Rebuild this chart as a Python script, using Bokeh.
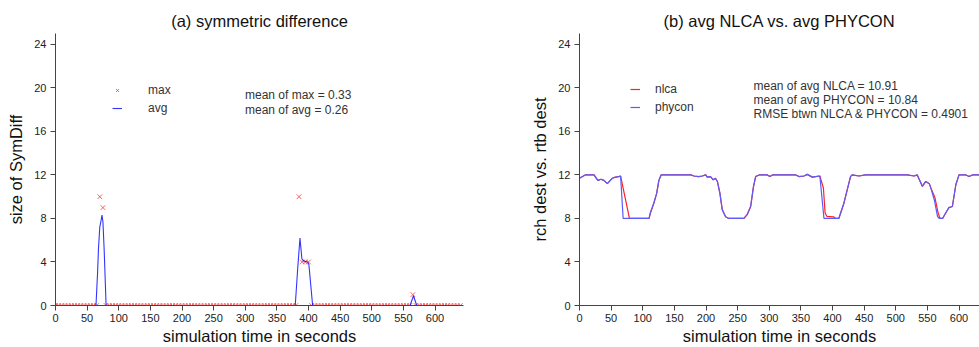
from bokeh.plotting import figure
from bokeh.layouts import row
from bokeh.models import Legend, LegendItem, Label, FixedTicker, Range1d
from bokeh.embed import file_html
from bokeh.resources import INLINE

# ---------------- data ----------------
x_ticks = [0, 50, 100, 150, 200, 250, 300, 350, 400, 450, 500, 550, 600]
y_ticks = [0, 4, 8, 12, 16, 20, 24]

# (a) symmetric difference: max sampled every 5 s
max_t = list(range(0, 645, 5))
max_v = [
    0, 0, 0, 0, 0, 0, 0, 0, 0, 0,
    0, 0, 0, 0, 10, 9, 0, 0, 0, 0,
    0, 0, 0, 0, 0, 0, 0, 0, 0, 0,
    0, 0, 0, 0, 0, 0, 0, 0, 0, 0,
    0, 0, 0, 0, 0, 0, 0, 0, 0, 0,
    0, 0, 0, 0, 0, 0, 0, 0, 0, 0,
    0, 0, 0, 0, 0, 0, 0, 0, 0, 0,
    0, 0, 0, 0, 0, 0, 0, 10, 4, 4,
    4, 0, 0, 0, 0, 0, 0, 0, 0, 0,
    0, 0, 0, 0, 0, 0, 0, 0, 0, 0,
    0, 0, 0, 0, 0, 0, 0, 0, 0, 0,
    0, 0, 0, 1, 0, 0, 0, 0, 0, 0,
    0, 0, 0, 0, 0, 0, 0, 0, 0,
]
avg_t = [0, 64, 66.5, 68, 70, 72, 73.5, 75, 77, 80,
         379, 383, 386.5, 389.5, 392, 398.5, 400.5, 406.5,
         560.5, 566, 571, 640]
avg_v = [0, 0, 3.0, 5.3, 7.2, 7.8, 8.3, 7.7, 5.0, 0,
         0, 3.5, 6.2, 4.3, 4.1, 4.0, 3.8, 0,
         0, 0.9, 0, 0]

# (b) avg NLCA vs. avg PHYCON
phy_t = [0, 9, 23, 29, 34, 38.5, 44, 52, 57, 62, 65, 69, 110, 112, 117.5, 122,
         125.5, 129, 176, 181, 188.5, 194, 199.5, 202, 207, 211.5, 215, 218, 222,
         225.7, 231, 236, 260, 265, 270.6, 275, 278.5, 284, 297, 301, 305, 342,
         347, 355, 360, 368, 373, 380, 386.5, 410, 418, 428.5, 431, 442, 452,
         518, 529, 534, 542, 547.5, 553, 555.5, 561, 566, 568.5, 574, 579, 584,
         589.5, 595, 600, 611, 616, 621, 640]
phy_v = [11.7, 12, 12, 11.5, 11.6, 11.5, 11.2, 11.7, 11.8, 11.85, 11.9, 8, 8, 8.5, 9.4, 10.3,
         11.5, 12, 12, 11.9, 11.85, 11.9, 12, 11.8, 11.85, 11.55, 11.7, 11.4, 10.3,
         8.8, 8.15, 8, 8, 8.35, 9.1, 10.9, 11.85, 12, 12, 11.85, 12, 12,
         11.85, 11.9, 12.05, 11.8, 11.85, 11.9, 8, 8, 9.4, 11.85, 12, 11.9, 12,
         12, 11.9, 12, 10.95, 11.4, 11.2, 10.8, 9.7, 8.2, 8.0, 8.0, 8.5, 9.0,
         9.1, 11.1, 12, 12, 11.85, 12, 12]
nlca_t = [0, 9, 23, 29, 34, 38.5, 44, 52, 57, 62, 65, 79, 110, 112, 117.5, 122,
          125.5, 129, 176, 181, 188.5, 194, 199.5, 202, 207, 211.5, 215, 218, 222,
          225.7, 231, 236, 260, 265, 270.6, 275, 278.5, 284, 297, 301, 305, 342,
          347, 355, 360, 368, 373, 380, 385.6, 388.3, 391, 401.6, 405, 410, 418,
          428.5, 431, 442, 452, 518, 529, 534, 542, 547.5, 553, 555.5, 562, 567,
          570, 574, 579, 584, 589.5, 595, 600, 611, 616, 621, 640]
nlca_v = [11.7, 12, 12, 11.5, 11.6, 11.5, 11.2, 11.7, 11.8, 11.85, 11.9, 8, 8, 8.5, 9.4, 10.3,
          11.5, 12, 12, 11.9, 11.85, 11.9, 12, 11.8, 11.85, 11.55, 11.7, 11.4, 10.3,
          8.8, 8.15, 8, 8, 8.35, 9.1, 10.9, 11.85, 12, 12, 11.85, 12, 12,
          11.85, 11.9, 12.05, 11.8, 11.85, 11.9, 10.8, 8.5, 8.2, 8.15, 8.0, 8, 9.4,
          11.85, 12, 11.9, 12, 12, 11.9, 12, 10.95, 11.4, 11.2, 10.8, 9.9, 8.5,
          8.0, 8.0, 8.5, 9.0, 9.1, 11.1, 12, 12, 11.85, 12, 12]

FONT = "Liberation Sans"


def style(p, ylabel):
    p.title.text_font = FONT
    p.title.text_font_size = "16.5px"
    p.title.text_font_style = "normal"
    p.title.text_color = "#111111"
    p.title.align = "center"
    p.title.standoff = 7
    p.outline_line_color = None
    p.xgrid.grid_line_color = None
    p.ygrid.grid_line_color = None
    p.xaxis.ticker = FixedTicker(ticks=x_ticks)
    p.yaxis.ticker = FixedTicker(ticks=y_ticks)
    p.xaxis.axis_label = "simulation time in seconds"
    p.yaxis.axis_label = ylabel
    for ax in (p.xaxis, p.yaxis):
        ax.axis_label_text_font = FONT
        ax.axis_label_text_font_size = "16.5px"
        ax.axis_label_text_font_style = "normal"
        ax.axis_label_text_color = "#111111"
        ax.major_label_text_font = FONT
        ax.major_label_text_font_size = "11px"
        ax.major_label_text_color = "#222222"
        ax.axis_line_color = "#444444"
        ax.major_tick_line_color = "#444444"
        ax.major_tick_in = 0
        ax.major_tick_out = 5
        ax.minor_tick_line_color = None
    p.xaxis.major_label_standoff = 3
    p.xaxis.axis_label_standoff = 2
    p.yaxis.major_label_standoff = 4
    p.yaxis.axis_label_standoff = 6


def legend(p, items, loc, gw, standoff):
    lg = Legend(items=items, location=loc, orientation="vertical",
                glyph_width=gw, glyph_height=18, label_height=18,
                label_standoff=standoff, spacing=0, padding=0, margin=0,
                border_line_alpha=0, background_fill_alpha=0,
                label_text_font=FONT, label_text_font_size="12px",
                label_text_color="#333333")
    p.add_layout(lg)


def note(p, text, x, y):
    p.add_layout(Label(x=x, y=y, x_units="screen", y_units="screen", text=text,
                       text_font=FONT, text_font_size="12px",
                       text_color="#333333", text_baseline="middle"))


# ---------------- (a) ----------------
p1 = figure(width=500, height=347, x_range=Range1d(0, 645), y_range=Range1d(0, 25),
            title="(a) symmetric difference", output_backend="svg",
            toolbar_location=None, min_border_left=55, min_border_right=37,
            min_border_top=33, min_border_bottom=42)
style(p1, "size of SymDiff")
r_max = p1.scatter(max_t, max_v, marker="x", size=6.5, color="#ff2a2a", alpha=0.75, line_width=1)
r_avg = p1.line(avg_t, avg_v, color="blue", line_width=1.1, alpha=0.8)
legend(p1, [LegendItem(label="max", renderers=[r_max]),
            LegendItem(label="avg", renderers=[r_avg])], (57, 188), 10, 26)
note(p1, "mean of max = 0.33", 189.5, 211)
note(p1, "mean of avg = 0.26", 189.5, 196)

# ---------------- (b) ----------------
p2 = figure(width=479, height=347, x_range=Range1d(0, 632.4), y_range=Range1d(0, 25),
            title="(b) avg NLCA vs. avg PHYCON", output_backend="svg",
            toolbar_location=None, min_border_left=79, min_border_right=0,
            min_border_top=33, min_border_bottom=42)
style(p2, "rch dest vs. rtb dest")
r_n = p2.line(nlca_t, nlca_v, color="#ff2020", line_width=1.2)
r_p = p2.line(phy_t, phy_v, color="#5a5aff", line_width=1.2)
legend(p2, [LegendItem(label="nlca", renderers=[r_n]),
            LegendItem(label="phycon", renderers=[r_p])], (51, 189), 10, 15)
note(p2, "mean of avg NLCA = 10.91", 174, 220)
note(p2, "mean of avg PHYCON = 10.84", 174, 205.5)
note(p2, "RMSE btwn NLCA & PHYCON = 0.4901", 174, 191.7)

layout = row(p1, p2)
open("out.html", "w").write(file_html(layout, INLINE))
